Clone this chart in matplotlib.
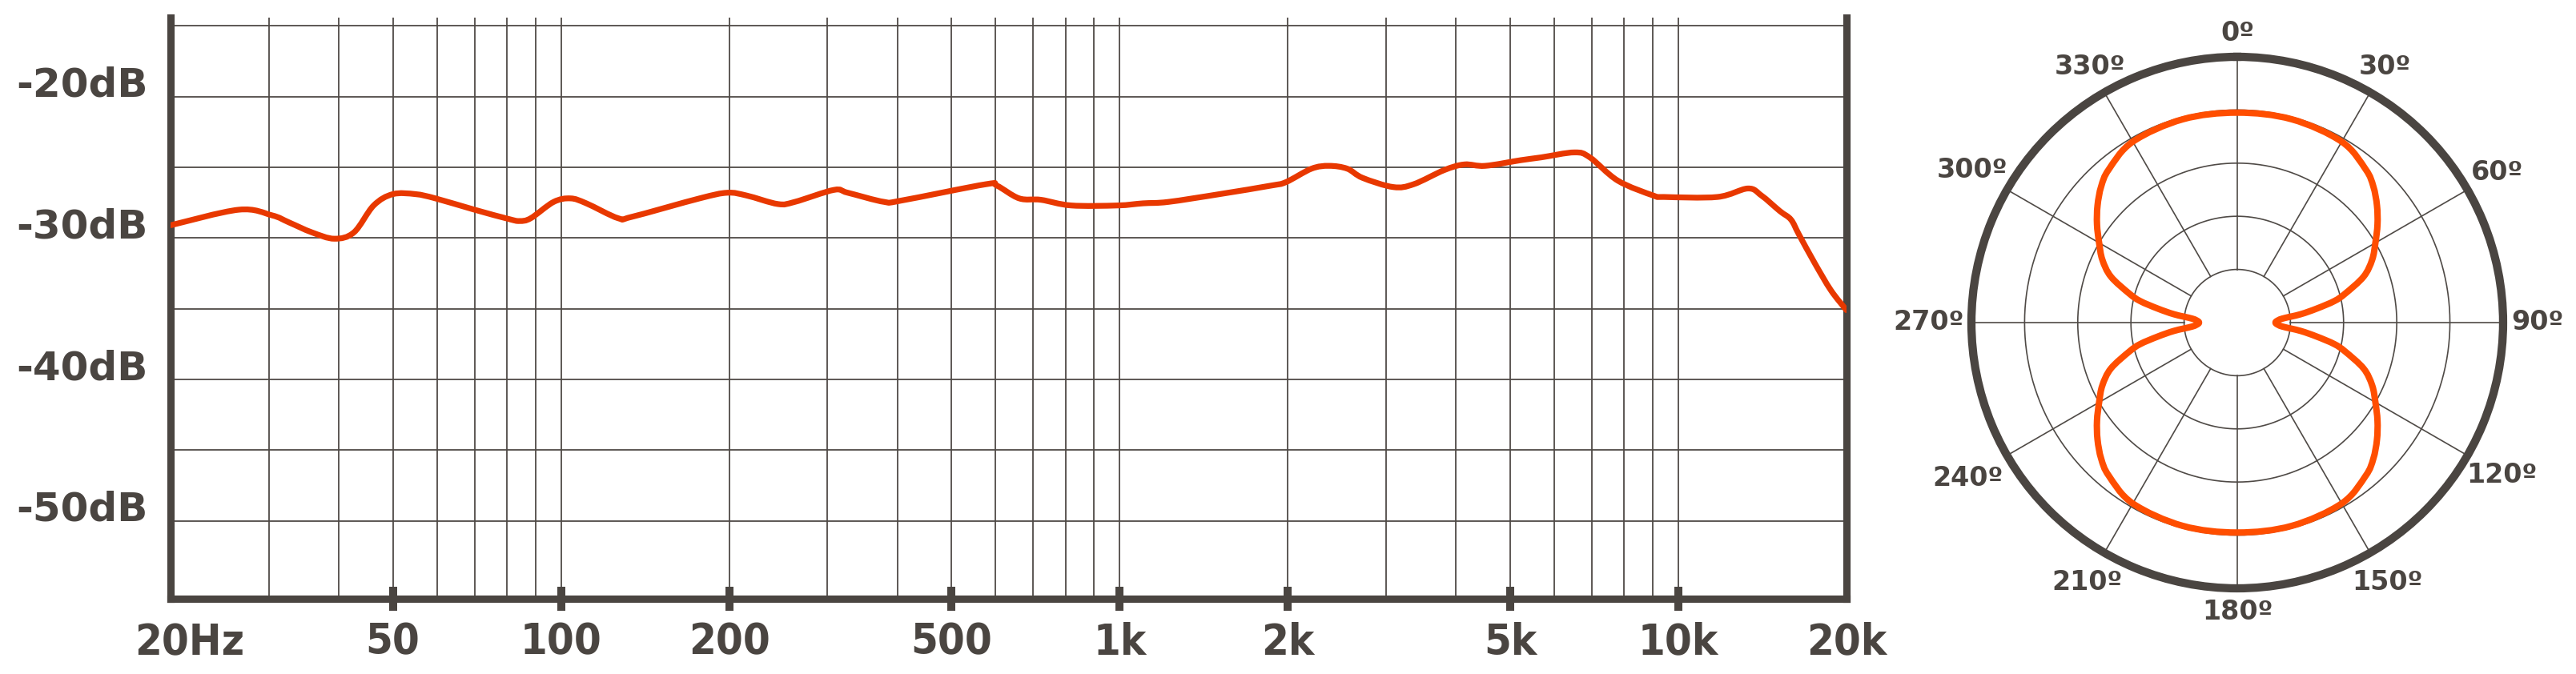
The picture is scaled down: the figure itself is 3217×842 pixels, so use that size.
import numpy as np
import matplotlib
matplotlib.use("Agg")
import matplotlib.pyplot as plt
from matplotlib.ticker import LogLocator, NullFormatter
from matplotlib.path import Path
from matplotlib.patches import PathPatch
from matplotlib.transforms import ScaledTranslation

# ── Data ────────────────────────────────────────────────────────────────
freq_hz = [20, 26.5, 30.4, 32.6, 35.8, 39.3, 42.6, 46.2, 50, 54.9, 59.6, 70,
           80.5, 84.3, 88.3, 97, 104, 111, 126.5, 134, 177, 198.5, 215, 244.5,
           262, 308, 326, 379, 407, 576, 603, 661, 723, 819, 991, 1101, 1222,
           1509, 1863, 1985, 2205, 2371, 2555, 2722, 3089, 3359, 3810, 4141,
           4510, 5223, 5685, 6517, 6944, 7796, 9025, 9424, 11750, 13320,
           14090, 15200, 15910, 16440, 17560, 18760, 20000]
response_db = [-29.1, -28.0, -28.4, -28.9, -29.6, -30.05, -29.6, -27.7, -26.9,
               -26.9, -27.2, -28.0, -28.65, -28.8, -28.6, -27.45, -27.2, -27.55,
               -28.6, -28.5, -27.2, -26.8, -27.0, -27.6, -27.45, -26.6, -26.8,
               -27.45, -27.35, -26.2, -26.3, -27.2, -27.3, -27.7, -27.7, -27.55,
               -27.45, -26.9, -26.3, -26.05, -25.1, -24.9, -25.1, -25.75, -26.4,
               -26.2, -25.2, -24.8, -24.9, -24.5, -24.3, -23.95, -24.3, -25.95,
               -27.0, -27.1, -27.1, -26.5, -27.0, -28.1, -28.7, -29.75, -31.8,
               -33.7, -35.1]

db_labels = [-20, -30, -40, -50]
freq_ticks = [20, 50, 100, 200, 500, 1000, 2000, 5000, 10000, 20000]
freq_tick_labels = ["20Hz", "50", "100", "200", "500", "1k", "2k", "5k", "10k", "20k"]

# polar pattern, one quadrant (0° front -> 90° side), radius in ring units
polar_deg = [0, 15, 30, 40, 45, 50, 55, 60, 65, 70, 75, 77.5, 80, 82.5, 85, 88, 90]
polar_r = [3.95, 3.96, 3.93, 3.76, 3.62, 3.43, 3.22, 3.0, 2.8, 2.53, 2.1,
           1.87, 1.52, 1.2, 0.85, 0.74, 0.72]
angle_labels = [0, 30, 60, 90, 120, 150, 180, 210, 240, 270, 300, 330]

# ── Style ───────────────────────────────────────────────────────────────
C_DARK = "#4A4541"
C_GRID = "#4F4A46"
C_CURVE = "#E83800"
C_POLAR = "#FF4E00"


def smooth_path(x, y, closed=False):
    """Catmull-Rom style bezier path running through every given point."""
    x = np.asarray(x, float)
    y = np.asarray(y, float)
    n = len(x)
    verts = [(x[0], y[0])]
    codes = [Path.MOVETO]
    segs = n if closed else n - 1
    for i in range(segs):
        i0 = (i - 1) % n if closed else max(i - 1, 0)
        i1 = i
        i2 = (i + 1) % n if closed else i + 1
        i3 = (i + 2) % n if closed else min(i + 2, n - 1)
        c1 = (x[i1] + (x[i2] - x[i0]) / 6, y[i1] + (y[i2] - y[i0]) / 6)
        c2 = (x[i2] - (x[i3] - x[i1]) / 6, y[i2] - (y[i3] - y[i1]) / 6)
        verts += [c1, c2, (x[i2], y[i2])]
        codes += [Path.CURVE4] * 3
    return np.array(verts), codes


fig = plt.figure(figsize=(32.17, 8.42), dpi=100)
fig.patch.set_facecolor("white")

# ── Frequency response ──────────────────────────────────────────────────
ax = fig.add_axes([0.0662, 0.1116, 0.6506, 0.8617])
ax.set_xscale("log")
ax.set_xlim(20, 20000)
ax.set_ylim(-55.5, -14.45)

v, c = smooth_path(np.log10(freq_hz), response_db)
v[:, 0] = 10 ** v[:, 0]
ax.add_patch(PathPatch(Path(v, c), fill=False, edgecolor=C_CURVE, lw=5.2,
                       capstyle="round", joinstyle="round", zorder=4))

ax.set_yticks(np.arange(-50, -14, 5))
ax.yaxis.set_tick_params(length=0, labelleft=False)
ax.xaxis.set_minor_locator(LogLocator(base=10, subs=np.arange(2, 10)))
ax.xaxis.set_minor_formatter(NullFormatter())
ax.set_xticks(freq_ticks)
ax.set_xticklabels([""] + freq_tick_labels[1:])
ax.tick_params(axis="x", which="major", direction="inout", length=21,
               width=7.2, color=C_DARK, pad=10, labelcolor=C_DARK)
ax.tick_params(axis="x", which="minor", length=0)
for t in ax.xaxis.get_major_ticks():
    t.label1.set_fontsize(39)
    t.label1.set_fontweight("bold")
    t.label1.set_fontstretch("condensed")
for i in (0, -1):
    ax.xaxis.get_major_ticks()[i].tick1line.set_visible(False)

# first label sits a little right of the corner
ax.text(freq_ticks[0], -0.04, freq_tick_labels[0], ha="center", va="top",
        fontsize=39, fontweight="bold", fontstretch="condensed", color=C_DARK,
        transform=ax.get_xaxis_transform()
        + ScaledTranslation(0.24, 0, fig.dpi_scale_trans))

ax.grid(True, which="both", axis="both", color=C_GRID, lw=1.3, zorder=1)
ax.set_axisbelow(True)

for side in ("left", "right", "bottom"):
    ax.spines[side].set_color(C_DARK)
    ax.spines[side].set_linewidth(6.6)
    ax.spines[side].set_capstyle("projecting")
ax.spines["top"].set_visible(False)

for val in db_labels:
    ax.text(-0.0135, val, f"{val}dB", transform=ax.get_yaxis_transform(),
            ha="right", va="baseline", fontsize=36, fontweight="bold",
            color=C_DARK)

# ── Polar pattern ───────────────────────────────────────────────────────
pax = fig.add_axes([0.7653, 0.1271, 0.2064, 0.7886], projection="polar")
pax.set_theta_zero_location("N")
pax.set_theta_direction(-1)
pax.set_ylim(0, 5)
pax.grid(False)
pax.set_xticks([])
pax.set_yticks([])
pax.spines["polar"].set_color(C_DARK)
pax.spines["polar"].set_linewidth(7.4)

circ = np.linspace(0, 2 * np.pi, 361)
for ring in (1, 2, 3, 4):
    pax.plot(circ, np.full_like(circ, ring), color=C_GRID, lw=1.2, zorder=1)
for a in angle_labels:
    th = np.deg2rad(a)
    pax.plot([th, th], [1, 5], color=C_GRID, lw=1.2, zorder=1)

# closed figure-8 from the measured quadrant (pattern is symmetric)
q_deg = np.array(polar_deg)
q_r = np.array(polar_r)
full_deg = np.concatenate([q_deg, 180 - q_deg[::-1][1:], 180 + q_deg[1:],
                           360 - q_deg[::-1][1:-1]])
full_r = np.concatenate([q_r, q_r[::-1][1:], q_r[1:], q_r[::-1][1:-1]])
th = np.deg2rad(full_deg)
pv, pc = smooth_path(full_r * np.sin(th), full_r * np.cos(th), closed=True)
pverts = np.column_stack([np.arctan2(pv[:, 0], pv[:, 1]), np.hypot(pv[:, 0], pv[:, 1])])
pax.add_patch(PathPatch(Path(pverts, pc), fill=False, edgecolor=C_POLAR, lw=5.8,
                        joinstyle="round", zorder=4))

label_r = {0: 5.45, 30: 5.55, 60: 5.65, 90: 5.65, 120: 5.75, 150: 5.65,
           180: 5.45, 210: 5.65, 240: 5.85, 270: 5.8, 300: 5.75, 330: 5.55}
for a in angle_labels:
    pax.text(np.deg2rad(a), label_r[a], f"{a}º", ha="center", va="center",
             fontsize=24, fontweight="bold", color=C_DARK, clip_on=False)

fig.savefig("out.png", dpi=100, facecolor="white")
